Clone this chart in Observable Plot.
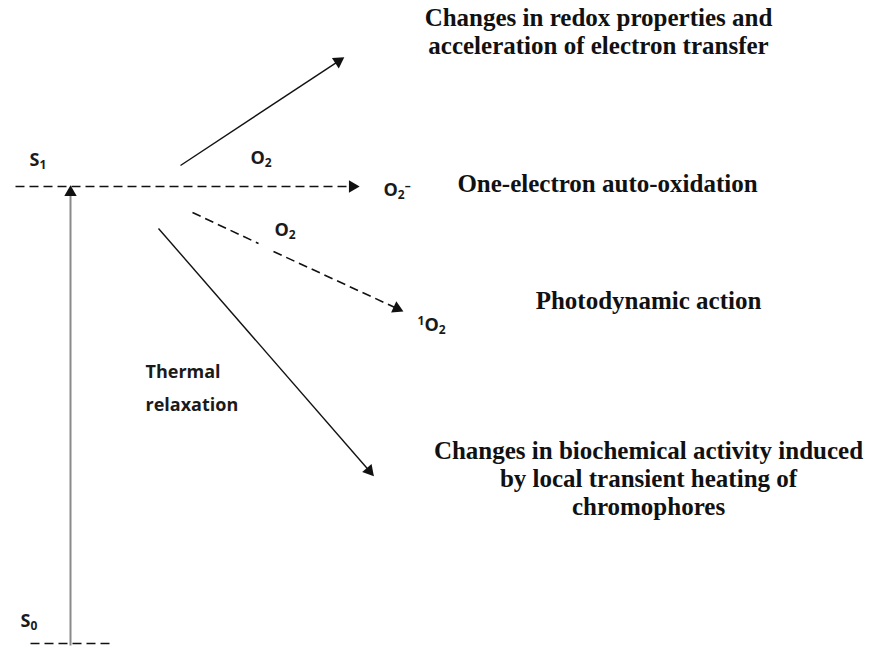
<!DOCTYPE html>
<html><head><meta charset="utf-8">
<script src="https://cdn.jsdelivr.net/npm/d3@7"></script>
<script src="https://cdn.jsdelivr.net/npm/@observablehq/plot@0.6"></script>
<style>body{margin:0;background:#fff}</style>
</head><body><div id="chart"></div>
<script>
// Diagram segments (pixel-space units of the diagram)
const solidArrows = [
  {x1: 180, y1: 165, x2: 342, y2: 58},
  {x1: 158, y1: 228, x2: 372, y2: 474}
];
const dashedArrows = [
  {x1: 15, y1: 186, x2: 357, y2: 186},
  {x1: 273, y1: 251, x2: 401, y2: 310}
];
const dashedSegments = [
  {x1: 192, y1: 212, x2: 258, y2: 243},
  {x1: 30, y1: 643, x2: 112, y2: 643}
];
const excitationArrow = [{x1: 70, y1: 645, x2: 70, y2: 187}];

const sansLabels = [
  {x: 29, y: 160, text: "S₁"},
  {x: 250, y: 158, text: "O₂"},
  {x: 383, y: 190, text: "O₂⁻"},
  {x: 274, y: 230, text: "O₂"},
  {x: 417, y: 325, text: "¹O₂"},
  {x: 20, y: 621, text: "S₀"},
  {x: 145, y: 372, text: "Thermal"},
  {x: 145, y: 405, text: "relaxation"}
];
const serifLabels = [
  {x: 598, y: 17, text: "Changes in redox properties and"},
  {x: 598, y: 45, text: "acceleration of electron transfer"},
  {x: 607, y: 183, text: "One-electron auto-oxidation"},
  {x: 648, y: 300, text: "Photodynamic action"},
  {x: 648, y: 450, text: "Changes in biochemical activity induced"},
  {x: 648, y: 478, text: "by local transient heating of"},
  {x: 648, y: 506, text: "chromophores"}
];

function heads(arr, back) {
  return arr.map(d => {
    const dx = d.x2 - d.x1, dy = d.y2 - d.y1, L = Math.hypot(dx, dy);
    return {x: d.x2 - back * dx / L, y: d.y2 - back * dy / L,
            angle: Math.atan2(dx, -dy) * 180 / Math.PI};
  });
}
function shortened(arr, back) {
  return arr.map(d => {
    const dx = d.x2 - d.x1, dy = d.y2 - d.y1, L = Math.hypot(dx, dy);
    return {x1: d.x1, y1: d.y1, x2: d.x2 - back * dx / L, y2: d.y2 - back * dy / L};
  });
}

const W = 870, H = 652;
const chart = Plot.plot({
  width: W, height: H,
  margin: 0,
  x: {domain: [0, W], axis: null},
  y: {domain: [0, H], reverse: true, axis: null},
  marks: [
    Plot.link(shortened(solidArrows, 6), {x1: "x1", y1: "y1", x2: "x2", y2: "y2", stroke: "#111", strokeWidth: 1.4}),
    Plot.link(shortened(dashedArrows, 6), {x1: "x1", y1: "y1", x2: "x2", y2: "y2", stroke: "#111", strokeWidth: 1.6, strokeDasharray: "9,5"}),
    Plot.link(dashedSegments, {x1: "x1", y1: "y1", x2: "x2", y2: "y2", stroke: "#111", strokeWidth: 1.6, strokeDasharray: "9,5"}),
    Plot.link(shortened(excitationArrow, 6), {x1: "x1", y1: "y1", x2: "x2", y2: "y2", stroke: "#8a8a8a", strokeWidth: 2}),
    Plot.dot(heads([...solidArrows, ...dashedArrows, ...excitationArrow], 5), {x: "x", y: "y", rotate: "angle", symbol: "triangle", r: 4.6, fill: "#111", stroke: "none"}),
    Plot.text(sansLabels, {x: "x", y: "y", text: "text", textAnchor: "start", lineAnchor: "middle", fontFamily: "'Open Sans', Lato, sans-serif", fontWeight: "bold", fontSize: 18, fill: "#1a1a1a", className: "sanslab"}),
    Plot.text(serifLabels, {x: "x", y: "y", text: "text", textAnchor: "middle", lineAnchor: "middle", fontFamily: "'Liberation Serif', 'Times New Roman', serif", fontWeight: "bold", fontSize: 25, fill: "#111"})
  ]
});
// Render subscript / superscript characters as shifted tspans
const subs = {"₀": "0", "₁": "1", "₂": "2"};
const sups = {"¹": "1", "⁻": "–"};
d3.select(chart).selectAll(".sanslab text").each(function() {
  const el = d3.select(this);
  const s = el.text();
  if (![...s].some(c => subs[c] || sups[c])) return;
  el.text(null);
  let shift = 0;
  for (const c of s) {
    let target = 0, ch = c, small = false;
    if (subs[c]) { target = 3; ch = subs[c]; small = true; }
    else if (sups[c]) { target = -6; ch = sups[c]; small = true; }
    const t = el.append("tspan").attr("dy", target - shift).text(ch);
    if (small) t.attr("font-size", 12);
    shift = target;
  }
});
document.getElementById("chart").appendChild(chart);
</script>
</body></html>
